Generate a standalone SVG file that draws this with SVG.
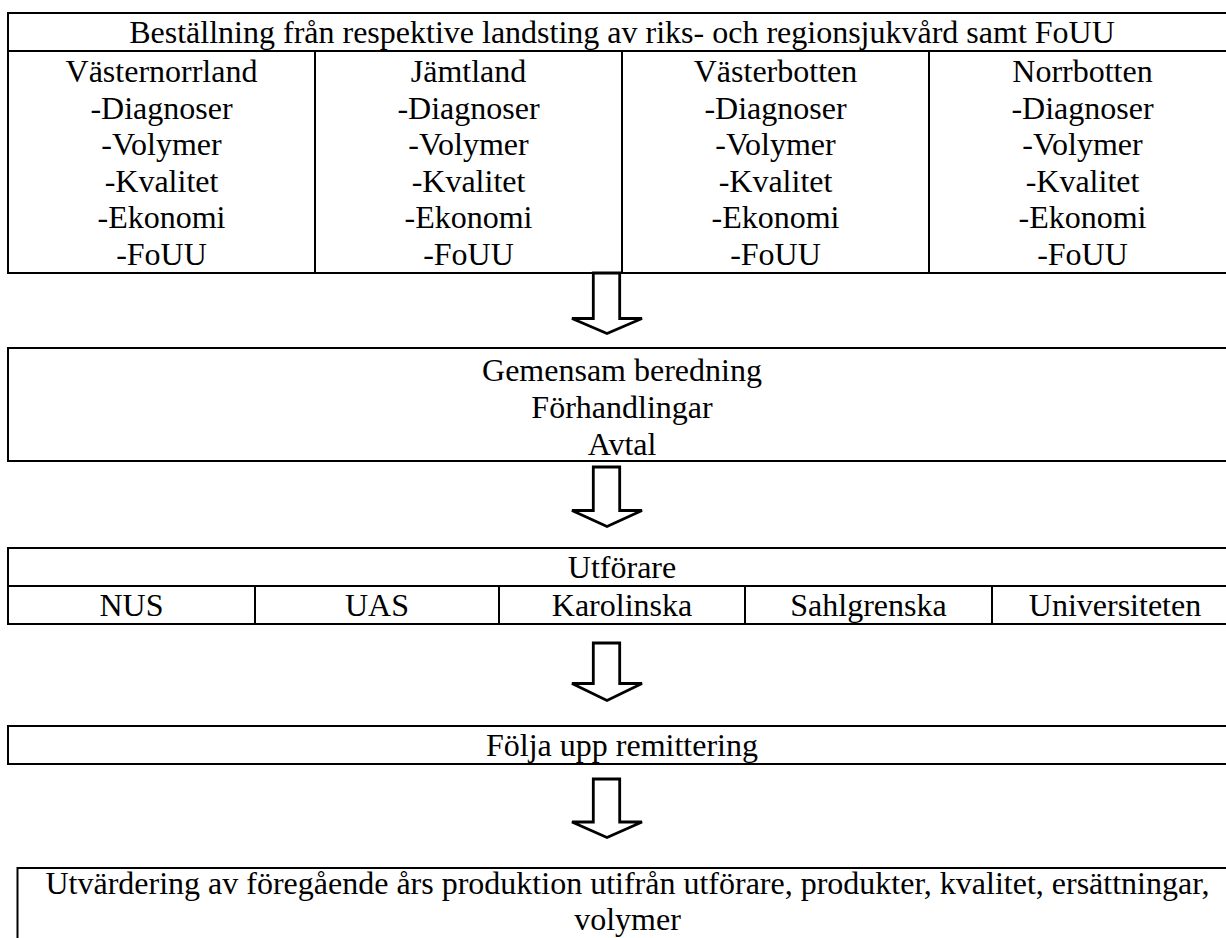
<svg xmlns="http://www.w3.org/2000/svg" width="1226" height="938" viewBox="0 0 1226 938">
<style>
  .box { fill: none; stroke: #000; stroke-width: 2; }
  .ln { stroke: #000; stroke-width: 2; }
  .t { font-family: "Liberation Serif", "Times New Roman", serif; font-size: 32px; fill: #000; text-anchor: middle; }
  .arrow { fill: #fff; stroke: #000; stroke-width: 2.8; stroke-linejoin: miter; }
</style>
<rect width="1226" height="938" fill="#fff"/>

<g id="bestallning">
  <rect class="box" x="8" y="13" width="1230" height="260"/>
  <line class="ln" x1="8" y1="51" x2="1238" y2="51"/>
  <line class="ln" x1="315" y1="51" x2="315" y2="273"/>
  <line class="ln" x1="622" y1="51" x2="622" y2="273"/>
  <line class="ln" x1="929" y1="51" x2="929" y2="273"/>
  <text class="t" x="622" y="43">Beställning från respektive landsting av riks- och regionsjukvård samt FoUU</text>
  <g id="vasternorrland">
    <text class="t" x="161.5" y="82">Västernorrland</text>
    <text class="t" x="161.5" y="118.6">-Diagnoser</text>
    <text class="t" x="161.5" y="155.2">-Volymer</text>
    <text class="t" x="161.5" y="191.8">-Kvalitet</text>
    <text class="t" x="161.5" y="228.4">-Ekonomi</text>
    <text class="t" x="161.5" y="265">-FoUU</text>
  </g>
  <g id="jamtland">
    <text class="t" x="468.5" y="82">Jämtland</text>
    <text class="t" x="468.5" y="118.6">-Diagnoser</text>
    <text class="t" x="468.5" y="155.2">-Volymer</text>
    <text class="t" x="468.5" y="191.8">-Kvalitet</text>
    <text class="t" x="468.5" y="228.4">-Ekonomi</text>
    <text class="t" x="468.5" y="265">-FoUU</text>
  </g>
  <g id="vasterbotten">
    <text class="t" x="775.5" y="82">Västerbotten</text>
    <text class="t" x="775.5" y="118.6">-Diagnoser</text>
    <text class="t" x="775.5" y="155.2">-Volymer</text>
    <text class="t" x="775.5" y="191.8">-Kvalitet</text>
    <text class="t" x="775.5" y="228.4">-Ekonomi</text>
    <text class="t" x="775.5" y="265">-FoUU</text>
  </g>
  <g id="norrbotten">
    <text class="t" x="1082.5" y="82">Norrbotten</text>
    <text class="t" x="1082.5" y="118.6">-Diagnoser</text>
    <text class="t" x="1082.5" y="155.2">-Volymer</text>
    <text class="t" x="1082.5" y="191.8">-Kvalitet</text>
    <text class="t" x="1082.5" y="228.4">-Ekonomi</text>
    <text class="t" x="1082.5" y="265">-FoUU</text>
  </g>
</g>

<g id="beredning">
  <rect class="box" x="8" y="348" width="1230" height="113"/>
  <text class="t" x="622" y="381">Gemensam beredning</text>
  <text class="t" x="622" y="417.8">Förhandlingar</text>
  <text class="t" x="622" y="454.6">Avtal</text>
</g>

<g id="utforare">
  <rect class="box" x="8" y="548" width="1230" height="76"/>
  <line class="ln" x1="8" y1="586" x2="1238" y2="586"/>
  <line class="ln" x1="255" y1="586" x2="255" y2="624"/>
  <line class="ln" x1="499" y1="586" x2="499" y2="624"/>
  <line class="ln" x1="745" y1="586" x2="745" y2="624"/>
  <line class="ln" x1="992" y1="586" x2="992" y2="624"/>
  <text class="t" x="622" y="578">Utförare</text>
  <text class="t" x="131.5" y="616">NUS</text>
  <text class="t" x="377" y="616">UAS</text>
  <text class="t" x="622" y="616">Karolinska</text>
  <text class="t" x="868.5" y="616">Sahlgrenska</text>
  <text class="t" x="1115" y="616">Universiteten</text>
</g>

<g id="folja-upp">
  <rect class="box" x="8" y="726" width="1230" height="38"/>
  <text class="t" x="622" y="756">Följa upp remittering</text>
</g>

<g id="utvardering">
  <rect class="box" x="17.5" y="868" width="1222" height="100"/>
  <text class="t" x="627.5" y="894">Utvärdering av föregående års produktion utifrån utförare, produkter, kvalitet, ersättningar,</text>
  <text class="t" x="627.5" y="929.5">volymer</text>
</g>

<g id="connectors">
  <polygon class="arrow" points="593.3,273 619.7,273 619.7,318.5 642,318.5 607,333.5 572,318.5 593.3,318.5"/>
  <polygon class="arrow" points="593.3,467 619.7,467 619.7,510.5 642,510.5 607,526.5 572,510.5 593.3,510.5"/>
  <polygon class="arrow" points="593.3,643 619.7,643 619.7,683.5 642,683.5 607,700.5 572,683.5 593.3,683.5"/>
  <polygon class="arrow" points="593.3,779 619.7,779 619.7,822 642,822 607,837.5 572,822 593.3,822"/>
  <line class="ln" x1="8" y1="273" x2="1238" y2="273"/>
</g>
</svg>
